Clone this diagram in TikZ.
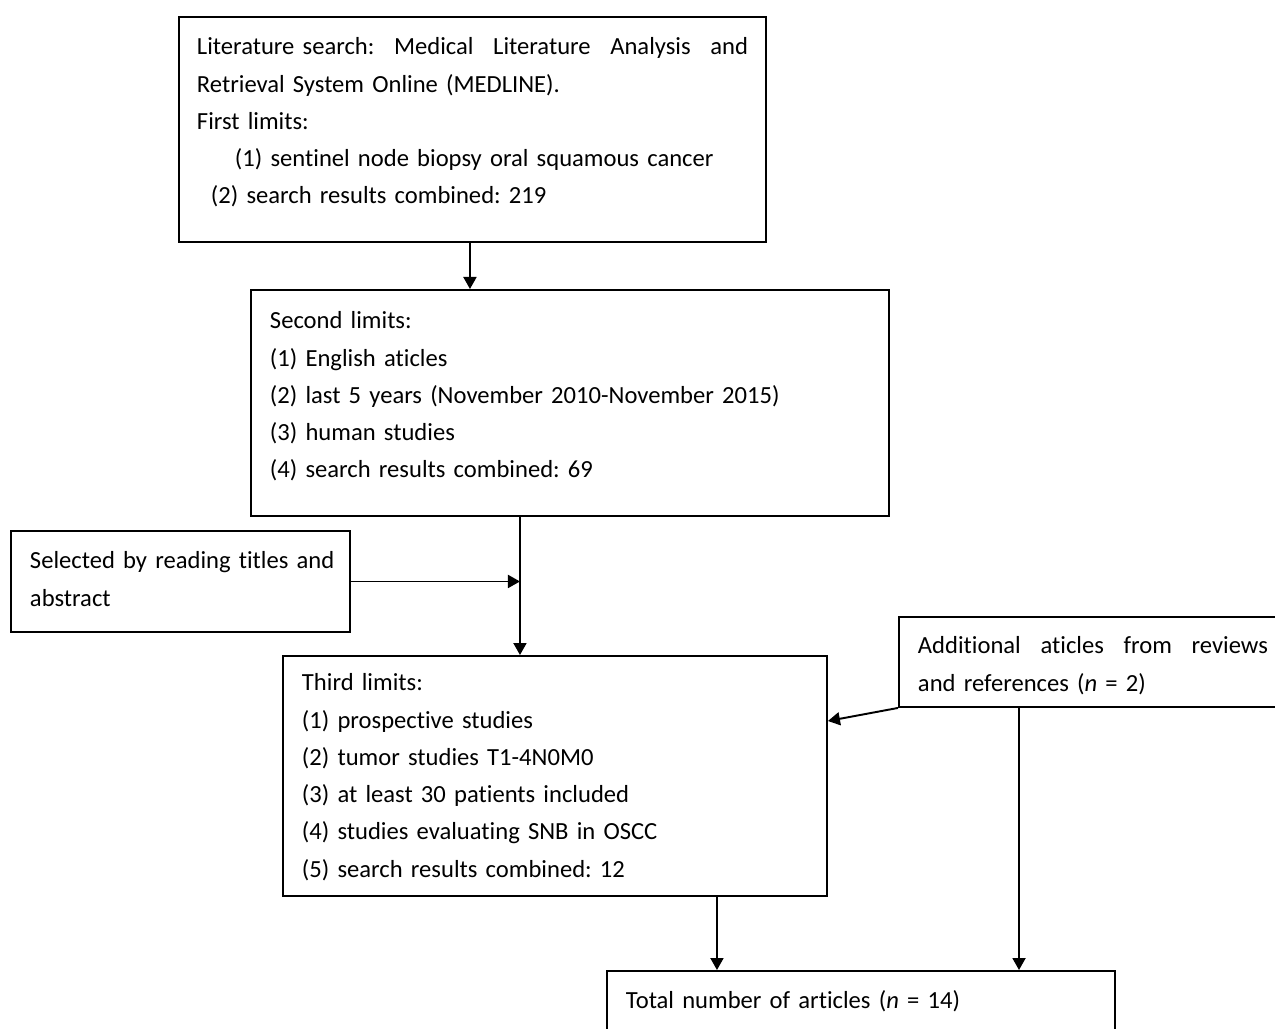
\documentclass[tikz,border=0pt]{standalone}
\usepackage{fontspec}
\setmainfont{Carlito}[Ligatures=CommonOff,WordSpace=0.8]
\usetikzlibrary{arrows.meta,positioning,calc}
\frenchspacing

\begin{document}
\begin{tikzpicture}[
        >={Triangle[length=0.24cm,width=0.26cm]},
        box/.style={draw,line width=1.1pt,anchor=north west,align=left,inner xsep=0.38cm,inner ysep=0pt,font=\fontsize{14}{21.2}\selectfont},
        flow/.style={->,line width=1.1pt}
    ]

    % Fix the page size
    \useasboundingbox (0,0) rectangle (25.5,-20.56);

    % Define the boxes
    \node[box,text width=11.02cm,inner xsep=0.36cm,text height=0.76cm,text depth=3.74cm] (search) at (3.56,-0.32)
        {\makebox[11.02cm]{Literature search:\hfill Medical\hfill Literature\hfill Analysis\hfill and}\\
         Retrieval System Online (MEDLINE).\\
         First limits:\\
         \hspace*{0.76cm}(1) sentinel node biopsy oral squamous cancer\\
         \hspace*{0.28cm}(2) search results combined: 219};
    \node[box,text width=12cm,text height=0.78cm,text depth=3.74cm] (second) at (5.00,-5.78)
        {Second limits:\\
         (1) English aticles\\
         (2) last 5 years (November 2010-November 2015)\\
         (3) human studies\\
         (4) search results combined: 69};
    \node[box,text width=6.02cm,text height=0.76cm,text depth=1.26cm] (select) at (0.20,-10.60)
        {\mbox{Selected by reading titles and}\\
         abstract};
    \node[box,text width=10.12cm,text height=0.70cm,text depth=4.10cm] (third) at (5.64,-13.10)
        {Third limits:\\
         (1) prospective studies\\
         (2) tumor studies T1-4N0M0\\
         (3) at least 30 patients included\\
         (4) studies evaluating SNB in OSCC\\
         (5) search results combined: 12};
    \node[box,text width=7cm,text height=0.74cm,text depth=1.06cm] (extra) at (17.96,-12.32)
        {\makebox[7cm]{Additional\hfill aticles\hfill from\hfill reviews}\\
         and references (\textit{n} = 2)};
    \node[box,text width=9.4cm,text height=0.76cm,text depth=0.48cm] (total) at (12.12,-19.40)
        {Total number of articles (\textit{n} = 14)};

    % Split points of the arrows
    \coordinate (split) at ([xshift=-1cm]second.south);
    \coordinate (outA) at ([xshift=3.24cm]third.south);
    \coordinate (outB) at ([xshift=2.42cm]extra.south west);

    % Draw the arrows
    \draw[flow] ([xshift=-0.05cm]search.south) -- ([xshift=-0.05cm]search.south |- second.north);
    \draw[flow] (split) -- (split |- third.north);
    \draw[flow] (select.east) -- (select.east -| split);
    \draw[flow] (extra.south west) -- ([yshift=-1.32cm]third.north east);
    \draw[flow] (outA) -- (outA |- total.north);
    \draw[flow] (outB) -- (outB |- total.north);

\end{tikzpicture}
\end{document}
